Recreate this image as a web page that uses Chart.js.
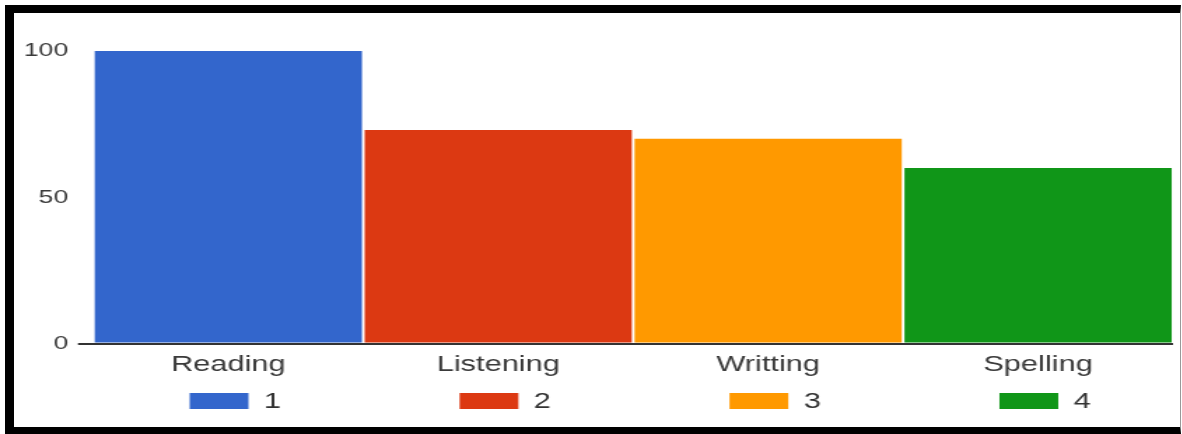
<!DOCTYPE html>
<html>
<head>
<meta charset="utf-8">
<script src="https://cdn.jsdelivr.net/npm/chart.js@4"></script>
<style>
  html, body { margin: 0; padding: 0; background: #fff; }
  #frame {
    position: absolute; left: 5px; top: 5px;
    width: 1166px; height: 414px;
    border-left: 9px solid #000; border-top: 8px solid #000;
    border-bottom: 7px solid #000; border-right: 1px solid #999;
    overflow: hidden; background: #fff;
  }
  /* the source picture is stretched sideways, so the canvas is too */
  #chart { position: absolute; left: 0; top: 0; width: 833px; height: 414px;
           transform-origin: 0 0; transform: scaleX(1.3998); }
</style>
</head>
<body>
<div id="frame"><canvas id="chart" width="833" height="414"></canvas></div>
<script>
const categories = ['Reading', 'Listening', 'Writting', 'Spelling'];
const scores = [100, 73, 70, 60];
const legendLabels = ['1', '2', '3', '4'];
const barColors = ['#3366cc', '#dc3912', '#ff9900', '#109618'];
const yTicks = [0, 50, 100];

Chart.defaults.font.family = '"Liberation Sans", Arial, sans-serif';

// One legend entry under each bar
const bottomLegend = {
  id: 'bottomLegend',
  afterDraw(chart) {
    const { ctx, scales: { x } } = chart;
    const colors = chart.data.datasets[0].backgroundColor;
    ctx.save();
    ctx.font = '22px "Liberation Sans", Arial, sans-serif';
    ctx.textBaseline = 'middle';
    const top = x.bottom + 15;
    legendLabels.forEach((label, i) => {
      const w = 42 + 11 + ctx.measureText(label).width;
      const left = x.getPixelForValue(i) - w / 2 + 5;
      ctx.fillStyle = colors[i];
      ctx.fillRect(left, top, 42, 16);
      ctx.fillStyle = '#333';
      ctx.fillText(label, left + 53, top + 9);
    });
    ctx.restore();
  }
};

new Chart(document.getElementById('chart'), {
  type: 'bar',
  data: {
    labels: categories,
    datasets: [{
      data: scores,
      backgroundColor: barColors,
      barPercentage: 0.99,
      categoryPercentage: 1
    }]
  },
  options: {
    responsive: false,
    animation: false,
    layout: { padding: { top: 38, left: 0, right: 5, bottom: 49 } },
    plugins: { legend: { display: false }, tooltip: { enabled: false } },
    scales: {
      x: {
        grid: { display: false },
        border: { display: false },
        ticks: { font: { size: 22 }, color: '#3a3a3a', padding: 0 }
      },
      y: {
        min: 0,
        max: 100,
        afterBuildTicks: axis => { axis.ticks = yTicks.map(v => ({ value: v })); },
        ticks: { font: { size: 19 }, color: '#3a3a3a', padding: 7 },
        grid: {
          color: c => c.tick.value === 0 ? '#333' : 'rgba(0,0,0,0)',
          lineWidth: c => c.tick.value === 0 ? 2 : 1,
          tickLength: 11,
          tickColor: c => c.tick.value === 0 ? '#333' : 'rgba(0,0,0,0)'
        },
        border: { display: false }
      }
    }
  },
  plugins: [bottomLegend]
});
</script>
</body>
</html>
